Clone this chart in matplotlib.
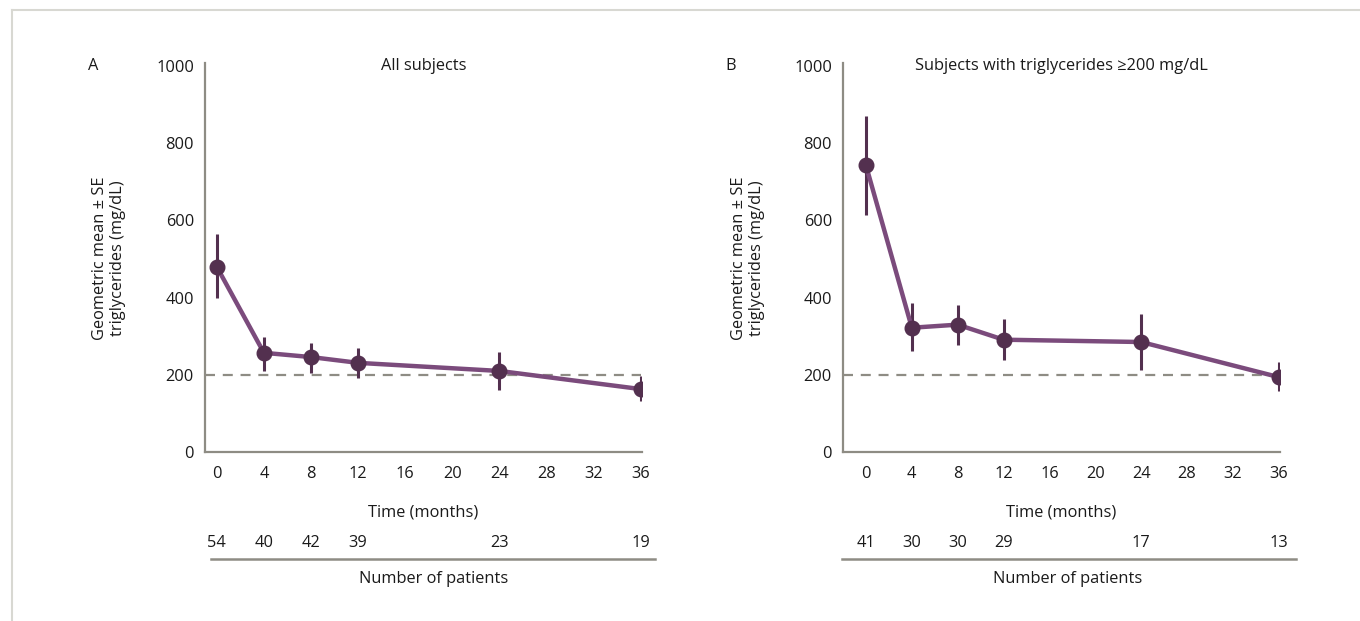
import matplotlib
matplotlib.use("Agg")
import matplotlib.pyplot as plt
from matplotlib.lines import Line2D
import matplotlib.transforms as mtransforms

plt.rcParams['font.family'] = ['Open Sans', 'DejaVu Sans']

# ---- data ----
months = [0, 4, 8, 12, 24, 36]
xticks = [0, 4, 8, 12, 16, 20, 24, 28, 32, 36]
yticks = [0, 200, 400, 600, 800, 1000]

a_mean = [480, 257, 246, 231, 210, 163]
a_low = [400, 211, 206, 192, 161, 132]
a_high = [566, 299, 282, 270, 258, 197]
a_n = [54, 40, 42, 39, 23, 19]

b_mean = [743, 322, 330, 291, 285, 194]
b_low = [613, 263, 278, 239, 213, 157]
b_high = [871, 386, 382, 344, 357, 234]
b_n = [41, 30, 30, 29, 17, 13]

threshold = 200

W, H = 1360, 621
fig = plt.figure(figsize=(W / 100, H / 100), dpi=100)

LINE_C = '#7b4b7c'
MARK_C = '#53304f'
AX_C = '#8e8c84'
TXT_C = '#1a1a1a'
FS = 11.8

# frame of the box
fig.add_artist(Line2D([12 / W, 1.0], [1 - 10 / H, 1 - 10 / H], color='#d8d8d2', lw=1.5))
fig.add_artist(Line2D([12 / W, 12 / W], [1 - 10 / H, 0], color='#d8d8d2', lw=1.5))


def panel(left_px, xmin, mean, low, high, nums, title, letter, letter_px, ylab_px, nline, nlab_px):
    ax = fig.add_axes([left_px / W, 1 - 452 / H, 437 / W, 389 / H])
    ax.set_xlim(xmin, 36.1)
    ax.set_ylim(0, 1008)
    for s in ['top', 'right']:
        ax.spines[s].set_visible(False)
    for s in ['left', 'bottom']:
        ax.spines[s].set_color(AX_C)
        ax.spines[s].set_linewidth(1.6)
    ax.set_xticks(xticks)
    ax.set_yticks(yticks)
    ax.tick_params(length=0, labelsize=FS, colors=TXT_C, pad=10)
    ax.tick_params(axis='y', pad=8)
    ax.hlines(threshold, xmin, 36, colors=AX_C, linestyles=(0, (4.5, 3.5)), lw=1.6, zorder=1)
    yerr = [[m - l for m, l in zip(mean, low)], [h - m for m, h in zip(mean, high)]]
    ax.errorbar(months, mean, yerr=yerr, fmt='none', ecolor=MARK_C, elinewidth=2.2, capsize=0, zorder=2)
    ax.plot(months, mean, color=LINE_C, lw=3.2, zorder=3)
    ax.plot(months, mean, 'o', color=MARK_C, ms=10.5, zorder=4)
    ax.text(0.5, 1008 - 8, title, transform=mtransforms.blended_transform_factory(ax.transAxes, ax.transData),
            ha='center', va='center', fontsize=FS, color=TXT_C)
    fig.text(letter_px / W, 1 - 66 / H, letter, ha='center', va='center', fontsize=FS, color=TXT_C)
    fig.text(ylab_px / W, 1 - 258 / H, 'Geometric mean ± SE\ntriglycerides (mg/dL)', rotation=90,
             ha='center', va='center', fontsize=FS, color=TXT_C, linespacing=1.1)
    ax.set_xlabel('Time (months)', fontsize=FS, color=TXT_C, labelpad=16)
    tr = mtransforms.blended_transform_factory(ax.transData, fig.transFigure)
    for x, n in zip(months, nums):
        ax.text(x, 1 - 543 / H, str(n), transform=tr, ha='center', va='center', fontsize=FS,
                color=TXT_C, clip_on=False)
    ax.add_artist(Line2D(nline, [1 - 559 / H, 1 - 559 / H], transform=tr, color=AX_C, lw=1.8, clip_on=False))
    fig.text(nlab_px / W, 1 - 579 / H, 'Number of patients', ha='center', va='center', fontsize=FS, color=TXT_C)
    return ax


panel(205, -1.0, a_mean, a_low, a_high, a_n, 'All subjects', 'A', 93, 109, [-0.46, 37.2], 434)
panel(843, -2.0, b_mean, b_low, b_high, b_n, 'Subjects with triglycerides ≥200 mg/dL', 'B', 731, 748, [-2.08, 37.5], 1068)

fig.savefig('out.png', dpi=100, facecolor='white')
